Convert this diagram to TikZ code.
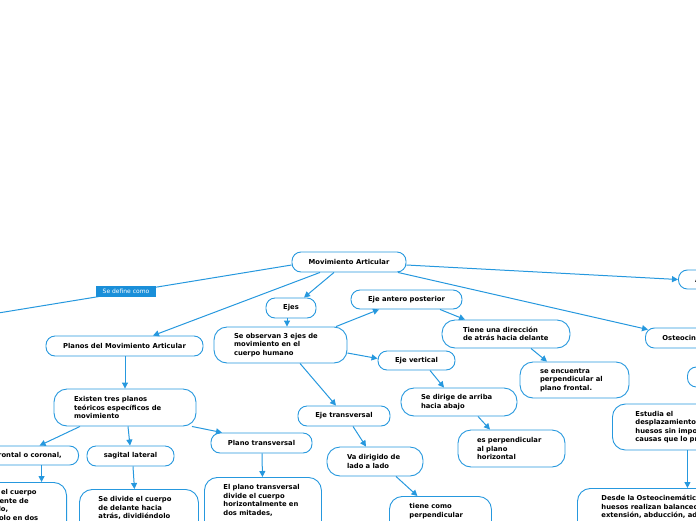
\documentclass[tikz,border=0pt]{standalone}
\usepackage{fontspec}
\usetikzlibrary{arrows.meta,calc}
\newfontfamily\mfont{DejaVu Sans}
\definecolor{mblue}{RGB}{38,152,222}
\definecolor{lblue}{RGB}{26,143,217}
\newcommand\Lx[1]{\mbox{#1}}
\begin{document}
\begin{tikzpicture}[x=1pt,y=-1pt,
  txt/.style={font=\mfont\bfseries\fontsize{6.8}{8.5}\selectfont, text=black},
  pill/.style={txt, draw=mblue, fill=white, line width=0.9pt, rounded corners=9pt, minimum height=20pt, inner sep=0pt, align=center},
  card/.style={txt, draw=mblue, fill=white, line width=0.9pt, rounded corners=13pt, inner ysep=3pt, align=left},
  conn/.style={draw=mblue, line width=1pt, -{Triangle[length=6pt,width=6pt]}},
  deflabel/.style={fill=lblue, text=white, font=\mfont\fontsize{6}{7}\selectfont, minimum width=60pt, minimum height=11pt, inner sep=0pt}
]
\useasboundingbox (0,0) rectangle (696,520);
\clip (0,0) rectangle (696,520);

% nodes
\node[pill, minimum width=114pt] (root) at (349,262) {Movimiento Articular};
\node[pill, minimum width=95pt, minimum height=19pt, anchor=west] (art) at (678,279.5) {Artrocinemática};
\node[pill, minimum width=98pt, anchor=west] (osteo) at (645,338) {Osteocinemática};
\node[pill, minimum width=60pt, anchor=west] (osub) at (687,377) {};
\node[card, anchor=west, text width=104pt, inner xsep=23pt, minimum height=46pt] (estudia) at (612,427)
  {\Lx{Estudia el}\\\Lx{desplazamiento de los}\\\Lx{huesos sin importar las}\\\Lx{causas que lo producen}};
\node[card, anchor=north west, text width=172pt, inner xsep=24pt, inner ysep=7pt] (desde) at (577,488)
  {\Lx{Desde la Osteocinemática los}\\\Lx{huesos realizan balanceos:}\\\Lx{extensión, abducción, aducción}\\\rule{0pt}{30pt}};

\node[card, text width=93pt, inner xsep=20pt, minimum height=36pt] (obs) at (280.5,345)
  {\Lx{Se observan 3 ejes de}\\\Lx{movimiento en el}\\\Lx{cuerpo humano}};
\node[pill, minimum width=50pt] (ejes) at (291,308) {Ejes};
\node[pill, minimum width=111pt, minimum height=19pt] (antero) at (406.5,299.5) {Eje antero posterior};
\node[pill, minimum width=77pt, minimum height=19pt] (vert) at (416.5,360.5) {Eje vertical};
\node[pill, minimum width=92pt] (etrans) at (344,416) {Eje transversal};
\node[card, text width=56pt, inner xsep=20pt, minimum height=29pt] (va) at (375,461.5)
  {\Lx{Va dirigido de}\\\Lx{lado a lado}};
\node[card, anchor=north west, text width=62pt, inner xsep=20pt, inner ysep=7pt] (tcomo) at (389,496)
  {\Lx{tiene como}\\\Lx{perpendicular}\\\rule{0pt}{30pt}};
\node[card, text width=86pt, inner xsep=21pt, minimum height=28pt] (tiene) at (506,334)
  {\Lx{Tiene una dirección}\\\Lx{de atrás hacia delante}};
\node[card, text width=69pt, inner xsep=20pt, minimum height=36pt] (enc) at (574.5,380)
  {\Lx{se encuentra}\\\Lx{perpendicular al}\\\Lx{plano frontal.}};
\node[card, text width=76pt, inner xsep=20pt, minimum height=28pt] (dirige) at (459,402)
  {\Lx{Se dirige de arriba}\\\Lx{hacia abajo}};
\node[card, text width=69pt, inner xsep=19pt, minimum height=37pt] (esperp) at (511.5,448.5)
  {\Lx{es perpendicular}\\\Lx{al plano}\\\Lx{horizontal}};

\node[pill, minimum width=157pt] (planos) at (124.5,346) {Planos del Movimiento Articular};
\node[card, text width=102pt, inner xsep=20pt, minimum height=37pt] (existen) at (125,407.5)
  {\Lx{Existen tres planos}\\\Lx{teóricos específicos de}\\\Lx{movimiento}};
\node[pill, minimum width=124pt, minimum height=19pt, anchor=east] (frontal) at (79,455.5) {Plano frontal o coronal,};
\node[pill, minimum width=87pt] (sagital) at (130.5,456) {sagital lateral};
\node[pill, minimum width=101pt] (ptrans) at (261.5,443) {Plano transversal};
\node[card, anchor=north east, text width=83pt, inner xsep=20pt, inner ysep=7pt] (fchild) at (67,482)
  {\Lx{Se divide el cuerpo}\\\Lx{verticalmente de}\\\Lx{lado a lado,}\\\Lx{dividiéndolo en dos}\\\rule{0pt}{30pt}};
\node[card, anchor=north west, text width=81pt, inner xsep=19pt, inner ysep=7pt] (schild) at (79,489)
  {\Lx{Se divide el cuerpo}\\\Lx{de delante hacia}\\\Lx{atrás, dividiéndolo}\\\rule{0pt}{30pt}};
\node[card, anchor=north west, text width=79pt, inner xsep=19pt, inner ysep=7pt] (tchild) at (204,477)
  {\Lx{El plano transversal}\\\Lx{divide el cuerpo}\\\Lx{horizontalmente en}\\\Lx{dos mitades,}\\\rule{0pt}{30pt}};

% label line
\coordinate (offL) at (-20,316);
\draw[mblue, line width=1pt] ([yshift=-3pt]root.west) -- (offL);
\node[deflabel] (def) at (126,291.5) {Se define como};

% connectors
\draw[conn] ([yshift=-3pt]root.east) -- (art.west);
\draw[conn] ([xshift=49pt]root.south) -- ([xshift=3pt,yshift=-2pt]osteo.north west);
\draw[conn] ([xshift=-15pt]root.south) -- ([xshift=13pt]ejes.north);
\draw[conn] ([xshift=-29pt]root.south) -- ([xshift=28.5pt]planos.north);
\draw[conn] ([xshift=-4pt]ejes.south) -- ([xshift=6.5pt]obs.north);
\draw[conn] ([xshift=55.5pt]obs.north) -- ([xshift=-27.5pt]antero.south);
\draw[conn] ([yshift=-8pt]obs.east) -- ([yshift=2pt]vert.west);
\draw[conn] ([xshift=19.5pt]obs.south) -- ([xshift=-8pt]etrans.north);
\draw[conn] ([xshift=33.5pt]antero.south) -- ([xshift=-41pt]tiene.north);
\draw[conn] ([xshift=25pt]tiene.south) -- ([xshift=-27.5pt]enc.north);
\draw[conn] ([xshift=13.5pt]vert.south) -- ([xshift=-15pt]dirige.north);
\draw[conn] ([xshift=19pt]dirige.south) -- ([xshift=-21.5pt]esperp.north);
\draw[conn] ([xshift=9pt]etrans.south) -- ([xshift=-9pt]va.north);
\draw[conn] ([xshift=21pt]va.south) -- ([xshift=-23pt]tcomo.north);
\draw[conn] ([xshift=0.5pt]planos.south) -- (existen.north);
\draw[conn] ([xshift=-45pt]existen.south) -- ([xshift=23pt]frontal.north);
\draw[conn] ([xshift=3pt]existen.south) -- ([xshift=-0.5pt]sagital.north);
\draw[conn] ([xshift=67pt]existen.south) -- ([xshift=-39.5pt]ptrans.north);
\draw[conn] ([xshift=25pt]frontal.south) -- ([xshift=36.5pt]fchild.north);
\draw[conn] ([xshift=2.5pt]sagital.south) -- ([xshift=-4.5pt]schild.north);
\draw[conn] ([xshift=0.5pt]ptrans.south) -- ([xshift=-0.5pt]tchild.north);
\draw[conn] (estudia.south) -- (desde.north);
\end{tikzpicture}
\end{document}
